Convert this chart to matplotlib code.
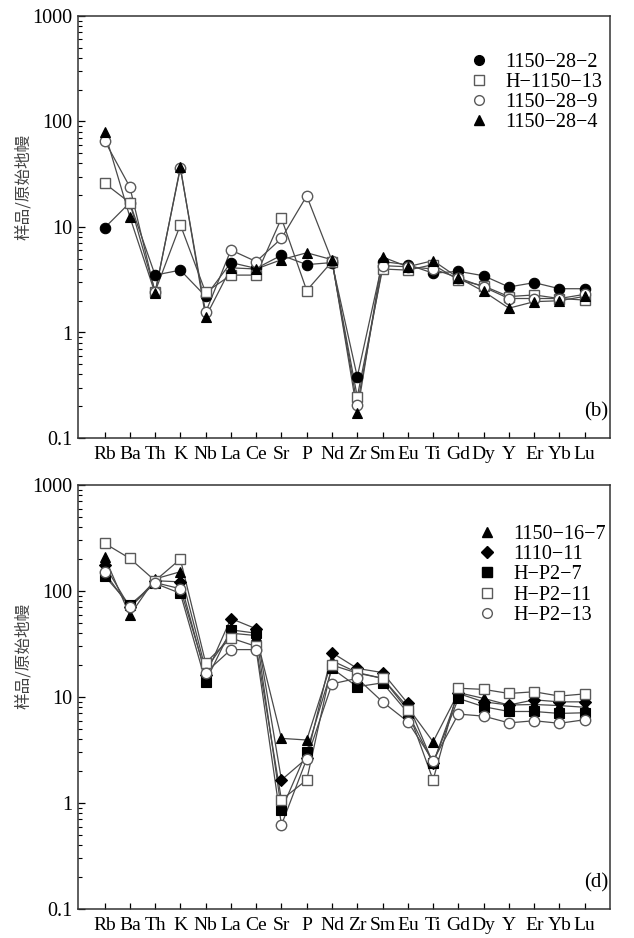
import numpy as np
import matplotlib
matplotlib.use('Agg')
import matplotlib.pyplot as plt
from matplotlib.lines import Line2D
from matplotlib.ticker import LogLocator, FuncFormatter, NullFormatter

plt.rcParams['font.family'] = ['Liberation Serif', 'DejaVu Serif']

#========== Data ==========
elements = ['Rb', 'Ba', 'Th', 'K', 'Nb', 'La', 'Ce', 'Sr', 'P', 'Nd',
            'Zr', 'Sm', 'Eu', 'Ti', 'Gd', 'Dy', 'Y', 'Er', 'Yb', 'Lu']

# panel (b)
s1150_28_2 = [9.8, 17, 3.5, 3.9, 2.2, 4.6, 4.05, 5.4, 4.4, 4.6,
              0.38, 4.7, 4.4, 3.65, 3.8, 3.45, 2.7, 2.97, 2.6, 2.6]
h1150_13 = [26, 17, 2.44, 10.5, 2.4, 3.5, 3.5, 12.1, 2.5, 4.7,
            0.246, 4.0, 3.9, 4.4, 3.15, 2.76, 2.19, 2.27, 2.1, 2.03]
s1150_28_9 = [66, 24, 2.4, 36, 1.55, 6.05, 4.7, 7.8, 19.7, 4.8,
              0.205, 4.3, 4.2, 4.0, 3.3, 2.7, 2.1, 2.1, 2.1, 2.3]
s1150_28_4 = [80, 12.5, 2.35, 37, 1.4, 4.1, 4.0, 4.9, 5.7, 4.9,
              0.174, 5.2, 4.2, 4.8, 3.3, 2.45, 1.7, 1.96, 2.0, 2.2]

# panel (d)
s1150_16_7 = [211, 59, 130, 152, 18, 40, 38, 4.07, 3.93, 22,
              17, 15, 8.0, 3.78, 11, 9.7, 8.4, 8.5, 8.3, 8.0]
s1110_11 = [176, 70, 125, 122, 16, 55, 44, 1.65, 2.64, 26.2,
            18.6, 17, 8.7, 2.37, 10.8, 9.0, 8.4, 9.4, 9.0, 9.0]
hp2_7 = [139, 74, 118, 95, 14, 43, 40, 0.86, 3.05, 18.6,
         12.5, 13.6, 7.1, 2.37, 9.7, 8.1, 7.3, 7.3, 7.0, 7.1]
hp2_11 = [282, 203, 125, 200, 21, 36, 30, 1.07, 1.65, 20,
          16.8, 15, 7.5, 1.65, 12.1, 11.8, 10.8, 11.2, 10.2, 10.7]
hp2_13 = [150, 70, 120, 105, 17, 28, 28, 0.62, 2.6, 13.3,
          15, 9.0, 5.85, 2.5, 6.9, 6.6, 5.7, 5.97, 5.65, 6.1]

labels_b = ['1150\u221228\u22122', 'H\u22121150\u221213', '1150\u221228\u22129', '1150\u221228\u22124']
labels_d = ['1150\u221216\u22127', '1110\u221211', 'H\u2212P2\u22127', 'H\u2212P2\u221211', 'H\u2212P2\u221213']

#========== Styles ==========
line_col = '#4a4a4a'
open_col = '#5a5a5a'
styles_b = [('o', True), ('s', False), ('o', False), ('^', True)]
styles_d = [('^', True), ('D', True), ('s', True), ('s', False), ('o', False)]
msize = {'o': 7.5, 's': 7.5, '^': 7.5, 'D': 6.5}

W, H = 634, 938
fig = plt.figure(figsize=(W / 100, H / 100), dpi=100)

def px_axes(l, t, r, b):
    return fig.add_axes([l / W, 1 - b / H, (r - l) / W, (b - t) / H])

def draw_panel(ax, series, styles, labels, tag, leg_xy):
    x = np.arange(len(elements))
    for vals, (m, filled) in zip(series, styles):
        ax.plot(x, vals, '-', color=line_col, lw=0.9, zorder=2)
    for vals, (m, filled) in zip(series, styles):
        if filled:
            ax.plot(x, vals, ls='none', marker=m, ms=msize[m], mfc='black', mec='black', mew=0.8, zorder=3)
        else:
            ax.plot(x, vals, ls='none', marker=m, ms=msize[m], mfc='white', mec=open_col, mew=1.0, zorder=3)
    ax.set_yscale('log')
    ax.set_ylim(0.1, 1000)
    ax.set_xlim(-1.05, 20.0)
    ax.set_xticks(x)
    ax.set_xticklabels(elements, fontsize=14)
    ax.yaxis.set_major_locator(LogLocator(base=10, numticks=10))
    ax.yaxis.set_minor_locator(LogLocator(base=10, subs=np.arange(2, 10), numticks=20))
    ax.yaxis.set_major_formatter(FuncFormatter(lambda v, p: '%g' % v))
    ax.yaxis.set_minor_formatter(NullFormatter())
    ax.tick_params(axis='y', which='major', direction='in', length=5, width=0.9, labelsize=14.5, pad=4)
    ax.tick_params(axis='y', which='minor', direction='in', length=3, width=0.8)
    ax.tick_params(axis='x', which='major', direction='in', length=4, width=0.9, pad=6)
    ax.tick_params(axis='x', which='minor', bottom=False)
    for s in ax.spines.values():
        s.set_linewidth(1.1)
        s.set_color('#333333')
    ax.text(0.974, 0.062, tag, transform=ax.transAxes, fontsize=15, ha='center', va='center')

    handles = []
    for (m, filled) in styles:
        if filled:
            h = Line2D([], [], ls='none', marker=m, ms=msize[m] - 0.5, mfc='black', mec='black')
        else:
            h = Line2D([], [], ls='none', marker=m, ms=msize[m] - 0.5, mfc='white', mec=open_col, mew=1.0)
        handles.append(h)
    ax.legend(handles, labels, loc='upper left', bbox_to_anchor=leg_xy, frameon=False,
              fontsize=14.5, handlelength=1.0, handletextpad=0.8, labelspacing=0.05, borderpad=0)

ax1 = px_axes(78, 16, 610, 438)
draw_panel(ax1, [s1150_28_2, h1150_13, s1150_28_9, s1150_28_4], styles_b, labels_b, '(b)', (0.716, 0.936))

ax2 = px_axes(78, 485, 610, 909)
draw_panel(ax2, [s1150_16_7, s1110_11, hp2_7, hp2_11, hp2_13], styles_d, labels_d, '(d)', (0.731, 0.929))

ylab = '样品/原始地幔'
fig.text(24 / W, 1 - 187 / H, ylab, rotation=90, ha='center', va='center',
         fontsize=12, color='#444444', family=['Noto Sans CJK SC', 'DejaVu Sans'])
fig.text(24 / W, 1 - 656 / H, ylab, rotation=90, ha='center', va='center',
         fontsize=12, color='#444444', family=['Noto Sans CJK SC', 'DejaVu Sans'])

fig.savefig('out.png', dpi=100)
